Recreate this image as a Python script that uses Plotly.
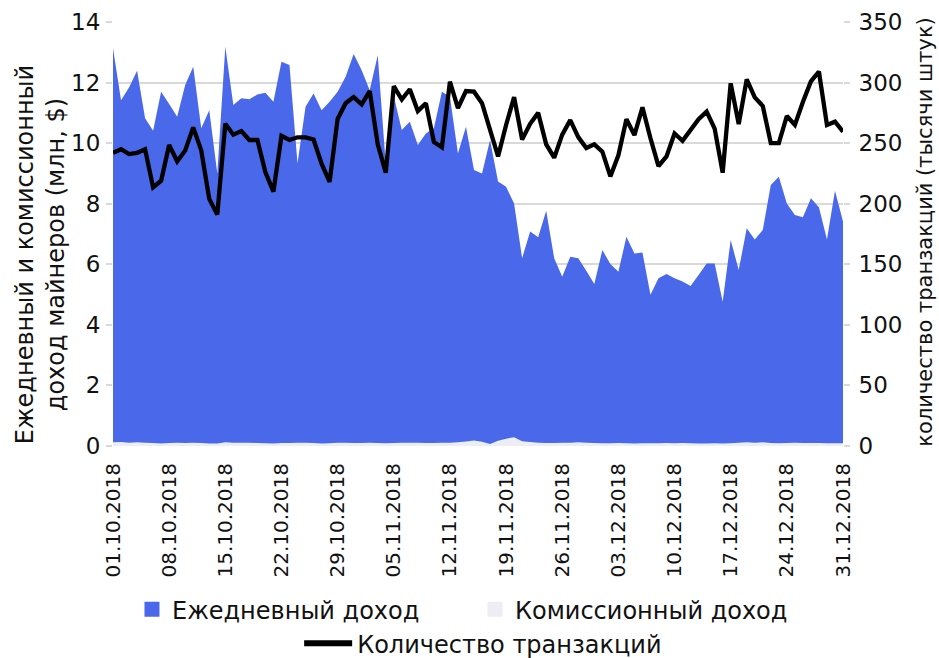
import pandas as pd
import plotly.graph_objects as go

dates = pd.date_range("2018-10-01", "2018-12-31", freq="D")

revenue = [
    13.13, 11.42, 11.84, 12.39, 10.82, 10.41, 11.70, 11.29, 10.87, 11.92,
    12.52, 10.49, 11.09, 9.00, 13.18, 11.26, 11.48, 11.45, 11.61, 11.66,
    11.37, 12.69, 12.58, 9.33, 11.20, 11.64, 11.09, 11.37, 11.70, 12.19,
    12.94, 12.41, 11.75, 12.90, 9.30, 11.55, 10.43, 10.71, 9.94, 10.32,
    10.49, 11.70, 11.53, 9.66, 10.54, 9.11, 9.00, 10.10, 8.73, 8.56,
    8.01, 6.20, 7.08, 6.89, 7.77, 6.20, 5.59, 6.25, 6.20, 5.79,
    5.35, 6.47, 6.01, 5.75, 6.91, 6.36, 6.39, 4.99, 5.54, 5.68,
    5.54, 5.43, 5.28, 5.65, 6.03, 6.03, 4.76, 6.80, 5.81, 7.19,
    6.82, 7.13, 8.62, 8.89, 8.01, 7.63, 7.55, 8.18, 7.88, 6.82,
    8.43, 7.41,
]

commission = [
    0.12, 0.13, 0.11, 0.12, 0.11, 0.10, 0.08, 0.10, 0.11, 0.10,
    0.11, 0.10, 0.08, 0.08, 0.12, 0.11, 0.11, 0.11, 0.10, 0.09,
    0.08, 0.10, 0.10, 0.11, 0.11, 0.10, 0.08, 0.09, 0.11, 0.11,
    0.10, 0.10, 0.11, 0.10, 0.09, 0.10, 0.11, 0.11, 0.11, 0.10,
    0.10, 0.11, 0.11, 0.12, 0.15, 0.18, 0.14, 0.07, 0.17, 0.24,
    0.29, 0.16, 0.13, 0.11, 0.10, 0.10, 0.11, 0.11, 0.12, 0.11,
    0.10, 0.09, 0.09, 0.10, 0.09, 0.08, 0.09, 0.09, 0.09, 0.10,
    0.09, 0.10, 0.09, 0.08, 0.08, 0.09, 0.08, 0.09, 0.11, 0.12,
    0.11, 0.12, 0.10, 0.09, 0.10, 0.11, 0.10, 0.10, 0.10, 0.09,
    0.09, 0.09,
]

transactions = [
    242, 245, 241, 242, 245, 213.5, 219, 248.5, 235, 244,
    263, 244, 204, 191, 266, 257, 260, 252.6, 252.6, 226,
    210, 256, 252.6, 254.8, 254.8, 253, 233, 218, 270, 283,
    288, 282, 293, 249, 225.6, 297, 286, 294.5, 276.5, 283,
    251, 246.6, 300.7, 279, 293, 292.5, 283, 262, 239, 265,
    288, 253, 266, 275, 249, 238, 257, 269, 255, 246,
    249, 243, 222.5, 240, 269.7, 256.7, 279.6, 254, 231, 239,
    258, 252, 261.4, 269.7, 276, 262, 225.6, 299.4, 265.8, 302.7,
    287.8, 280.7, 250, 250, 272.4, 265, 284, 301, 309, 265,
    267.7, 259.4,
]

tick_dates = dates[::7]
tick_labels = [d.strftime("%d.%m.%Y") for d in tick_dates]

series_names = ["Ежедневный доход", "Комиссионный доход", "Количество транзакций"]
left_title = "Ежедневный и комиссионный<br>доход майнеров (млн, $)"
right_title = "количество транзакций (тысячи штук)"

BLUE = "#4A68EA"
GRAY = "#ECEEF3"
FONT = "DejaVu Sans"

fig = go.Figure()
fig.add_trace(go.Scatter(x=dates, y=revenue, fill="tozeroy", mode="none",
                         fillcolor=BLUE, showlegend=False, hoverinfo="skip"))
fig.add_trace(go.Scatter(x=dates, y=commission, fill="tozeroy", mode="none",
                         fillcolor=GRAY, showlegend=False, hoverinfo="skip"))
fig.add_trace(go.Scatter(x=dates, y=transactions, yaxis="y2", mode="lines",
                         line=dict(color="black", width=4.3), showlegend=False))

# legend entries
fig.add_trace(go.Scatter(x=[None], y=[None], mode="markers", name=series_names[0],
                         marker=dict(symbol="square", size=15, color=BLUE), legend="legend"))
fig.add_trace(go.Scatter(x=[None], y=[None], mode="markers", name=series_names[1],
                         marker=dict(symbol="square", size=15, color=GRAY), legend="legend"))
fig.add_trace(go.Scatter(x=[None], y=[None], mode="lines", name=series_names[2],
                         line=dict(color="black", width=6), legend="legend2"))

fig.update_layout(
    width=939, height=658,
    margin=dict(l=113, r=96, t=22, b=212, autoexpand=False),
    paper_bgcolor="white", plot_bgcolor="white",
    font=dict(family=FONT, size=23, color="#111111"),
    xaxis=dict(
        range=[dates[0], dates[-1]],
        tickvals=tick_dates, ticktext=tick_labels, tickangle=-90,
        tickfont=dict(size=20), showgrid=False, zeroline=False, showline=False,
        ticks="", automargin=False, ticklabelstandoff=12,
    ),
    yaxis=dict(
        range=[0, 14], dtick=2, gridcolor="#D9D9D9", gridwidth=2,
        ticks="outside", ticklen=6, tickcolor="#D9D9D9", tickwidth=2,
        zeroline=False, showline=False, automargin=False, ticklabelstandoff=1,
    ),
    yaxis2=dict(
        range=[0, 350], dtick=50, overlaying="y", side="right", showgrid=False,
        ticks="outside", ticklen=6, tickcolor="#D9D9D9", tickwidth=2,
        zeroline=False, showline=False, automargin=False, ticklabelstandoff=4,
    ),
    legend=dict(orientation="h", x=0.026, xanchor="left", y=-0.333, yanchor="top",
                entrywidth=298, entrywidthmode="pixels", font=dict(size=24),
                bgcolor="rgba(0,0,0,0)"),
    legend2=dict(orientation="h", x=0.255, xanchor="left", y=-0.413, yanchor="top",
                 itemwidth=48, font=dict(size=24), bgcolor="rgba(0,0,0,0)"),
    annotations=[
        dict(text=left_title, xref="paper", yref="paper", x=-0.1, y=0.45,
             xanchor="center", yanchor="middle", textangle=-90, showarrow=False,
             font=dict(size=24)),
        dict(text=right_title, xref="paper", yref="paper", x=1.112, y=0.505,
             xanchor="center", yanchor="middle", textangle=-90, showarrow=False,
             font=dict(size=21)),
    ],
)

fig.write_html("out.html", config={"displayModeBar": False},
               post_script="document.body.style.margin='0';")
